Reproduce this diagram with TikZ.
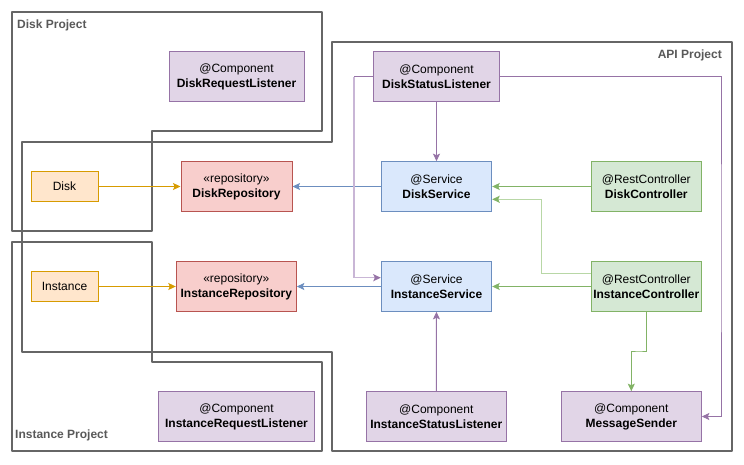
\documentclass[tikz,border=0pt]{standalone}
\usepackage{fontspec}
\setmainfont{Liberation Sans}
\usetikzlibrary{arrows.meta}

\definecolor{purpF}{HTML}{E1D5E7}\definecolor{purpS}{HTML}{9673A6}
\definecolor{orngF}{HTML}{FFE6CC}\definecolor{orngS}{HTML}{D79B00}
\definecolor{redF}{HTML}{F8CECC}\definecolor{redS}{HTML}{B85450}
\definecolor{bluF}{HTML}{DAE8FC}\definecolor{bluS}{HTML}{6C8EBF}
\definecolor{grnF}{HTML}{D5E8D4}\definecolor{grnS}{HTML}{82B366}
\definecolor{purpL}{HTML}{C9B6D6}
\definecolor{grnL}{HTML}{B8D7A6}
\definecolor{grpS}{HTML}{666666}
\definecolor{grpT}{HTML}{595959}

\tikzset{
  box/.style={draw, line width=1pt, align=center, inner sep=0pt,
    minimum height=49.6pt, font=\fontsize{12}{15}\selectfont},
  comp/.style={box, fill=purpF, draw=purpS},
  entity/.style={box, fill=orngF, draw=orngS, minimum height=29.6pt},
  repo/.style={box, fill=redF, draw=redS},
  serv/.style={box, fill=bluF, draw=bluS, minimum width=110.4pt},
  ctrl/.style={box, fill=grnF, draw=grnS, minimum width=110pt},
  group/.style={draw=grpS, line width=2.2pt, line join=round},
  grouplabel/.style={text=grpT, font=\bfseries\fontsize{12}{14}\selectfont, inner sep=0pt},
  tip/.style={-{Stealth[length=7.5pt,width=7pt,inset=1.5pt,#1]}},
  link/.style={line width=1pt},
  faint/.style={line width=1.4pt},
}

\begin{document}
\begin{tikzpicture}[x=1pt,y=-1pt]
\useasboundingbox (0,0) rectangle (744,464);

% project outlines
\draw[group] (12,12) -- (322,12) -- (322,131) -- (152,131) -- (152,231) -- (12,231) -- cycle;
\draw[group] (332,42) -- (732,42) -- (732,451) -- (332,451) -- (332,352) -- (22,352) -- (22,142) -- (332,142) -- cycle;
\draw[group] (12,242) -- (152,242) -- (152,362) -- (322,362) -- (322,451) -- (12,451) -- cycle;

\node[grouplabel, anchor=west] (lblDisk) at (17,25) {Disk Project};
\node[grouplabel, anchor=east] (lblApi) at (722,55.7) {API Project};
\node[grouplabel, anchor=west] (lblInst) at (15,435.7) {Instance Project};

% components
\node[comp, minimum width=135pt] (drl) at (236.5,76.5) {@Component\\\textbf{DiskRequestListener}};
\node[entity, minimum width=67pt] (disk) at (64.5,186.5) {Disk};
\node[repo, minimum width=111pt] (drepo) at (236.5,186.5) {«repository»\\\textbf{DiskRepository}};
\node[comp, minimum width=125.3pt] (dsl) at (436.5,76.5) {@Component\\\textbf{DiskStatusListener}};
\node[serv] (dserv) at (436.5,186.5) {@Service\\\textbf{DiskService}};
\node[ctrl] (dctrl) at (646.3,186.5) {@RestController\\\textbf{DiskController}};

\node[entity, minimum width=67pt] (inst) at (64.5,286.5) {Instance};
\node[repo, minimum width=120pt] (irepo) at (236.3,286.5) {«repository»\\\textbf{InstanceRepository}};
\node[serv] (iserv) at (436.5,286.5) {@Service\\\textbf{InstanceService}};
\node[ctrl] (ictrl) at (646.3,286.5) {@RestController\\\textbf{InstanceController}};

\node[comp, minimum width=155.6pt] (irl) at (236.5,416.5) {@Component\\\textbf{InstanceRequestListener}};
\node[comp, minimum width=140pt] (isl) at (436.3,416.5) {@Component\\\textbf{InstanceStatusListener}};
\node[comp, minimum width=140pt] (ms) at (631.3,416.5) {@Component\\\textbf{MessageSender}};

% bend points
\coordinate (bendP) at (354,76.5);
\coordinate (bendG) at (541.3,236);
\coordinate (bendR) at (721,250);
\coordinate (bendM) at (639,351);

% connectors
\draw[link, orngS, tip] (disk) -- (drepo);
\draw[link, orngS, tip] (inst) -- (irepo);
\draw[link, bluS, tip] (dserv) -- (drepo);
\draw[link, bluS, tip] (iserv) -- (irepo);
\draw[link, purpS, tip] (dsl) -- (dserv);
\draw[link, grnS, tip] (dctrl) -- (dserv);
\draw[link, grnS, tip] (ictrl) -- (iserv);
\draw[link, purpS, tip] (isl) -- (iserv);
\draw[link, purpS] (dsl.west) -- (bendP);
\draw[faint, purpL, tip={color=purpS}] (bendP) |- ([yshift=8.8pt]iserv.west);
\draw[faint, grnL, tip={color=grnS}] ([yshift=12.8pt]ictrl.west) -| (bendG) |- ([yshift=-12.8pt]dserv.east);
\draw[link, purpS, tip] (dsl.east) -| (bendR) |- (ms.east);
\draw[link, grnS, tip] (ictrl.south) |- (bendM) -| (ms.north);

\end{tikzpicture}
\end{document}
